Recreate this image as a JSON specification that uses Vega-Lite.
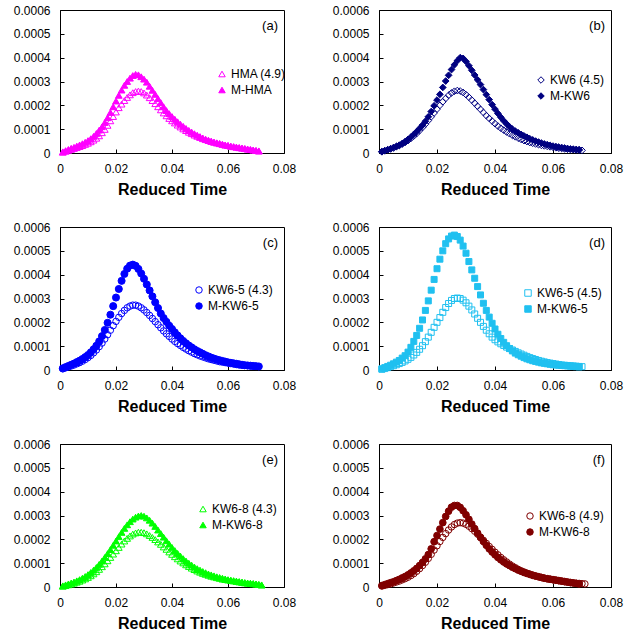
{
"$schema":"https://vega.github.io/schema/vega-lite/v6.json",
"background":"white",
"padding":{"left":12,"top":3,"right":0,"bottom":0},
"config":{"font":"Liberation Sans","view":{"stroke":"#000","strokeWidth":1},
"axis":{"grid":false,"labelFlush":false,"domainColor":"#000","tickColor":"#000","labelColor":"#000","labelFontSize":12,"titleFontSize":16,"titleFontWeight":"bold","titleColor":"#000","tickSize":-4,"labelPadding":14,"titlePadding":7},
"legend":{"orient":"none","title":null,"labelFontSize":12,"labelColor":"#000","symbolSize":42,"symbolStrokeWidth":1,"rowPadding":4,"labelOffset":3},
"title":{"anchor":"end","frame":"group","offset":-29,"dx":-6,"fontSize":13,"fontWeight":"normal","color":"#000"}},
"datasets":{
"a1":[{"x":0.001,"y":0.03e-4},{"x":0.002,"y":0.07e-4},{"x":0.003,"y":0.11e-4},{"x":0.004,"y":0.15e-4},{"x":0.005,"y":0.19e-4},{"x":0.006,"y":0.23e-4},{"x":0.007,"y":0.27e-4},{"x":0.008,"y":0.31e-4},{"x":0.009,"y":0.36e-4},{"x":0.010,"y":0.41e-4},{"x":0.011,"y":0.47e-4},{"x":0.012,"y":0.54e-4},{"x":0.013,"y":0.62e-4},{"x":0.014,"y":0.72e-4},{"x":0.015,"y":0.85e-4},{"x":0.016,"y":0.99e-4},{"x":0.017,"y":1.16e-4},{"x":0.018,"y":1.35e-4},{"x":0.019,"y":1.53e-4},{"x":0.020,"y":1.72e-4},{"x":0.021,"y":1.9e-4},{"x":0.022,"y":2.05e-4},{"x":0.023,"y":2.2e-4},{"x":0.024,"y":2.33e-4},{"x":0.025,"y":2.44e-4},{"x":0.026,"y":2.53e-4},{"x":0.027,"y":2.58e-4},{"x":0.028,"y":2.6e-4},{"x":0.029,"y":2.58e-4},{"x":0.030,"y":2.52e-4},{"x":0.031,"y":2.43e-4},{"x":0.032,"y":2.32e-4},{"x":0.033,"y":2.2e-4},{"x":0.034,"y":2.07e-4},{"x":0.035,"y":1.94e-4},{"x":0.036,"y":1.81e-4},{"x":0.037,"y":1.68e-4},{"x":0.038,"y":1.56e-4},{"x":0.039,"y":1.45e-4},{"x":0.040,"y":1.35e-4},{"x":0.041,"y":1.26e-4},{"x":0.042,"y":1.17e-4},{"x":0.043,"y":1.09e-4},{"x":0.044,"y":1.01e-4},{"x":0.045,"y":0.94e-4},{"x":0.046,"y":0.87e-4},{"x":0.047,"y":0.81e-4},{"x":0.048,"y":0.75e-4},{"x":0.049,"y":0.7e-4},{"x":0.050,"y":0.65e-4},{"x":0.051,"y":0.6e-4},{"x":0.052,"y":0.56e-4},{"x":0.053,"y":0.52e-4},{"x":0.054,"y":0.48e-4},{"x":0.055,"y":0.45e-4},{"x":0.056,"y":0.42e-4},{"x":0.057,"y":0.39e-4},{"x":0.058,"y":0.36e-4},{"x":0.059,"y":0.33e-4},{"x":0.060,"y":0.31e-4},{"x":0.061,"y":0.28e-4},{"x":0.062,"y":0.26e-4},{"x":0.063,"y":0.24e-4},{"x":0.064,"y":0.22e-4},{"x":0.065,"y":0.2e-4},{"x":0.066,"y":0.18e-4},{"x":0.067,"y":0.16e-4},{"x":0.068,"y":0.14e-4},{"x":0.069,"y":0.12e-4},{"x":0.070,"y":0.1e-4},{"x":0.071,"y":0.08e-4}],
"a2":[{"x":0.001,"y":0.05e-4},{"x":0.002,"y":0.1e-4},{"x":0.003,"y":0.15e-4},{"x":0.004,"y":0.2e-4},{"x":0.005,"y":0.24e-4},{"x":0.006,"y":0.29e-4},{"x":0.007,"y":0.34e-4},{"x":0.008,"y":0.39e-4},{"x":0.009,"y":0.45e-4},{"x":0.010,"y":0.52e-4},{"x":0.011,"y":0.6e-4},{"x":0.012,"y":0.7e-4},{"x":0.013,"y":0.82e-4},{"x":0.014,"y":0.96e-4},{"x":0.015,"y":1.1e-4},{"x":0.016,"y":1.28e-4},{"x":0.017,"y":1.48e-4},{"x":0.018,"y":1.7e-4},{"x":0.019,"y":1.94e-4},{"x":0.020,"y":2.18e-4},{"x":0.021,"y":2.42e-4},{"x":0.022,"y":2.64e-4},{"x":0.023,"y":2.84e-4},{"x":0.024,"y":3.0e-4},{"x":0.025,"y":3.14e-4},{"x":0.026,"y":3.25e-4},{"x":0.027,"y":3.3e-4},{"x":0.028,"y":3.28e-4},{"x":0.029,"y":3.2e-4},{"x":0.030,"y":3.1e-4},{"x":0.031,"y":2.97e-4},{"x":0.032,"y":2.8e-4},{"x":0.033,"y":2.63e-4},{"x":0.034,"y":2.46e-4},{"x":0.035,"y":2.28e-4},{"x":0.036,"y":2.11e-4},{"x":0.037,"y":1.94e-4},{"x":0.038,"y":1.78e-4},{"x":0.039,"y":1.65e-4},{"x":0.040,"y":1.53e-4},{"x":0.041,"y":1.42e-4},{"x":0.042,"y":1.31e-4},{"x":0.043,"y":1.21e-4},{"x":0.044,"y":1.12e-4},{"x":0.045,"y":1.03e-4},{"x":0.046,"y":0.95e-4},{"x":0.047,"y":0.88e-4},{"x":0.048,"y":0.81e-4},{"x":0.049,"y":0.75e-4},{"x":0.050,"y":0.69e-4},{"x":0.051,"y":0.63e-4},{"x":0.052,"y":0.58e-4},{"x":0.053,"y":0.54e-4},{"x":0.054,"y":0.5e-4},{"x":0.055,"y":0.46e-4},{"x":0.056,"y":0.43e-4},{"x":0.057,"y":0.4e-4},{"x":0.058,"y":0.37e-4},{"x":0.059,"y":0.34e-4},{"x":0.060,"y":0.32e-4},{"x":0.061,"y":0.29e-4},{"x":0.062,"y":0.27e-4},{"x":0.063,"y":0.25e-4},{"x":0.064,"y":0.23e-4},{"x":0.065,"y":0.21e-4},{"x":0.066,"y":0.19e-4},{"x":0.067,"y":0.17e-4},{"x":0.068,"y":0.15e-4},{"x":0.069,"y":0.13e-4},{"x":0.070,"y":0.11e-4},{"x":0.071,"y":0.09e-4}],
"b1":[{"x":0.001,"y":0.05e-4},{"x":0.002,"y":0.09e-4},{"x":0.003,"y":0.13e-4},{"x":0.004,"y":0.17e-4},{"x":0.005,"y":0.21e-4},{"x":0.006,"y":0.26e-4},{"x":0.007,"y":0.31e-4},{"x":0.008,"y":0.37e-4},{"x":0.009,"y":0.44e-4},{"x":0.010,"y":0.52e-4},{"x":0.011,"y":0.61e-4},{"x":0.012,"y":0.71e-4},{"x":0.013,"y":0.82e-4},{"x":0.014,"y":0.94e-4},{"x":0.015,"y":1.07e-4},{"x":0.016,"y":1.21e-4},{"x":0.017,"y":1.36e-4},{"x":0.018,"y":1.52e-4},{"x":0.019,"y":1.68e-4},{"x":0.020,"y":1.84e-4},{"x":0.021,"y":2.0e-4},{"x":0.022,"y":2.15e-4},{"x":0.023,"y":2.29e-4},{"x":0.024,"y":2.42e-4},{"x":0.025,"y":2.52e-4},{"x":0.026,"y":2.59e-4},{"x":0.027,"y":2.62e-4},{"x":0.028,"y":2.6e-4},{"x":0.029,"y":2.54e-4},{"x":0.030,"y":2.45e-4},{"x":0.031,"y":2.34e-4},{"x":0.032,"y":2.22e-4},{"x":0.033,"y":2.09e-4},{"x":0.034,"y":1.96e-4},{"x":0.035,"y":1.83e-4},{"x":0.036,"y":1.7e-4},{"x":0.037,"y":1.57e-4},{"x":0.038,"y":1.45e-4},{"x":0.039,"y":1.34e-4},{"x":0.040,"y":1.23e-4},{"x":0.041,"y":1.13e-4},{"x":0.042,"y":1.04e-4},{"x":0.043,"y":0.96e-4},{"x":0.044,"y":0.88e-4},{"x":0.045,"y":0.81e-4},{"x":0.046,"y":0.74e-4},{"x":0.047,"y":0.68e-4},{"x":0.048,"y":0.62e-4},{"x":0.049,"y":0.57e-4},{"x":0.050,"y":0.52e-4},{"x":0.051,"y":0.48e-4},{"x":0.052,"y":0.44e-4},{"x":0.053,"y":0.41e-4},{"x":0.054,"y":0.38e-4},{"x":0.055,"y":0.35e-4},{"x":0.056,"y":0.32e-4},{"x":0.057,"y":0.3e-4},{"x":0.058,"y":0.28e-4},{"x":0.059,"y":0.26e-4},{"x":0.060,"y":0.24e-4},{"x":0.061,"y":0.22e-4},{"x":0.062,"y":0.2e-4},{"x":0.063,"y":0.19e-4},{"x":0.064,"y":0.17e-4},{"x":0.065,"y":0.16e-4},{"x":0.066,"y":0.15e-4},{"x":0.067,"y":0.14e-4},{"x":0.068,"y":0.13e-4},{"x":0.069,"y":0.12e-4},{"x":0.070,"y":0.11e-4}],
"b2":[{"x":0.001,"y":0.06e-4},{"x":0.002,"y":0.1e-4},{"x":0.003,"y":0.14e-4},{"x":0.004,"y":0.18e-4},{"x":0.005,"y":0.23e-4},{"x":0.006,"y":0.28e-4},{"x":0.007,"y":0.33e-4},{"x":0.008,"y":0.4e-4},{"x":0.009,"y":0.48e-4},{"x":0.010,"y":0.57e-4},{"x":0.011,"y":0.67e-4},{"x":0.012,"y":0.78e-4},{"x":0.013,"y":0.9e-4},{"x":0.014,"y":1.03e-4},{"x":0.015,"y":1.17e-4},{"x":0.016,"y":1.33e-4},{"x":0.017,"y":1.52e-4},{"x":0.018,"y":1.74e-4},{"x":0.019,"y":1.98e-4},{"x":0.020,"y":2.22e-4},{"x":0.021,"y":2.46e-4},{"x":0.022,"y":2.75e-4},{"x":0.023,"y":3.02e-4},{"x":0.024,"y":3.26e-4},{"x":0.025,"y":3.5e-4},{"x":0.026,"y":3.7e-4},{"x":0.027,"y":3.87e-4},{"x":0.028,"y":4.0e-4},{"x":0.029,"y":3.97e-4},{"x":0.030,"y":3.84e-4},{"x":0.031,"y":3.66e-4},{"x":0.032,"y":3.47e-4},{"x":0.033,"y":3.27e-4},{"x":0.034,"y":3.07e-4},{"x":0.035,"y":2.87e-4},{"x":0.036,"y":2.66e-4},{"x":0.037,"y":2.45e-4},{"x":0.038,"y":2.24e-4},{"x":0.039,"y":2.03e-4},{"x":0.040,"y":1.84e-4},{"x":0.041,"y":1.66e-4},{"x":0.042,"y":1.5e-4},{"x":0.043,"y":1.35e-4},{"x":0.044,"y":1.22e-4},{"x":0.045,"y":1.1e-4},{"x":0.046,"y":1.0e-4},{"x":0.047,"y":0.92e-4},{"x":0.048,"y":0.85e-4},{"x":0.049,"y":0.78e-4},{"x":0.050,"y":0.72e-4},{"x":0.051,"y":0.66e-4},{"x":0.052,"y":0.6e-4},{"x":0.053,"y":0.55e-4},{"x":0.054,"y":0.5e-4},{"x":0.055,"y":0.46e-4},{"x":0.056,"y":0.42e-4},{"x":0.057,"y":0.38e-4},{"x":0.058,"y":0.35e-4},{"x":0.059,"y":0.32e-4},{"x":0.060,"y":0.29e-4},{"x":0.061,"y":0.27e-4},{"x":0.062,"y":0.25e-4},{"x":0.063,"y":0.23e-4},{"x":0.064,"y":0.21e-4},{"x":0.065,"y":0.19e-4},{"x":0.066,"y":0.17e-4},{"x":0.067,"y":0.16e-4},{"x":0.068,"y":0.15e-4},{"x":0.069,"y":0.14e-4}],
"c1":[{"x":0.001,"y":0.05e-4},{"x":0.002,"y":0.09e-4},{"x":0.003,"y":0.13e-4},{"x":0.004,"y":0.17e-4},{"x":0.005,"y":0.21e-4},{"x":0.006,"y":0.26e-4},{"x":0.007,"y":0.31e-4},{"x":0.008,"y":0.37e-4},{"x":0.009,"y":0.44e-4},{"x":0.010,"y":0.52e-4},{"x":0.011,"y":0.61e-4},{"x":0.012,"y":0.72e-4},{"x":0.013,"y":0.84e-4},{"x":0.014,"y":0.98e-4},{"x":0.015,"y":1.13e-4},{"x":0.016,"y":1.3e-4},{"x":0.017,"y":1.48e-4},{"x":0.018,"y":1.67e-4},{"x":0.019,"y":1.86e-4},{"x":0.020,"y":2.04e-4},{"x":0.021,"y":2.21e-4},{"x":0.022,"y":2.37e-4},{"x":0.023,"y":2.5e-4},{"x":0.024,"y":2.61e-4},{"x":0.025,"y":2.68e-4},{"x":0.026,"y":2.72e-4},{"x":0.027,"y":2.72e-4},{"x":0.028,"y":2.68e-4},{"x":0.029,"y":2.61e-4},{"x":0.030,"y":2.52e-4},{"x":0.031,"y":2.41e-4},{"x":0.032,"y":2.29e-4},{"x":0.033,"y":2.16e-4},{"x":0.034,"y":2.03e-4},{"x":0.035,"y":1.9e-4},{"x":0.036,"y":1.77e-4},{"x":0.037,"y":1.64e-4},{"x":0.038,"y":1.52e-4},{"x":0.039,"y":1.41e-4},{"x":0.040,"y":1.3e-4},{"x":0.041,"y":1.2e-4},{"x":0.042,"y":1.11e-4},{"x":0.043,"y":1.03e-4},{"x":0.044,"y":0.95e-4},{"x":0.045,"y":0.88e-4},{"x":0.046,"y":0.81e-4},{"x":0.047,"y":0.75e-4},{"x":0.048,"y":0.69e-4},{"x":0.049,"y":0.64e-4},{"x":0.050,"y":0.59e-4},{"x":0.051,"y":0.55e-4},{"x":0.052,"y":0.51e-4},{"x":0.053,"y":0.47e-4},{"x":0.054,"y":0.44e-4},{"x":0.055,"y":0.41e-4},{"x":0.056,"y":0.38e-4},{"x":0.057,"y":0.35e-4},{"x":0.058,"y":0.33e-4},{"x":0.059,"y":0.31e-4},{"x":0.060,"y":0.29e-4},{"x":0.061,"y":0.27e-4},{"x":0.062,"y":0.25e-4},{"x":0.063,"y":0.23e-4},{"x":0.064,"y":0.21e-4},{"x":0.065,"y":0.2e-4},{"x":0.066,"y":0.19e-4},{"x":0.067,"y":0.18e-4},{"x":0.068,"y":0.17e-4},{"x":0.069,"y":0.16e-4},{"x":0.070,"y":0.15e-4}],
"c2":[{"x":0.001,"y":0.07e-4},{"x":0.002,"y":0.12e-4},{"x":0.003,"y":0.17e-4},{"x":0.004,"y":0.22e-4},{"x":0.005,"y":0.27e-4},{"x":0.006,"y":0.33e-4},{"x":0.007,"y":0.39e-4},{"x":0.008,"y":0.46e-4},{"x":0.009,"y":0.54e-4},{"x":0.010,"y":0.63e-4},{"x":0.011,"y":0.74e-4},{"x":0.012,"y":0.87e-4},{"x":0.013,"y":1.02e-4},{"x":0.014,"y":1.2e-4},{"x":0.015,"y":1.42e-4},{"x":0.016,"y":1.68e-4},{"x":0.017,"y":1.98e-4},{"x":0.018,"y":2.32e-4},{"x":0.019,"y":2.68e-4},{"x":0.020,"y":3.04e-4},{"x":0.021,"y":3.4e-4},{"x":0.022,"y":3.74e-4},{"x":0.023,"y":4.03e-4},{"x":0.024,"y":4.25e-4},{"x":0.025,"y":4.38e-4},{"x":0.026,"y":4.42e-4},{"x":0.027,"y":4.37e-4},{"x":0.028,"y":4.24e-4},{"x":0.029,"y":4.05e-4},{"x":0.030,"y":3.83e-4},{"x":0.031,"y":3.59e-4},{"x":0.032,"y":3.34e-4},{"x":0.033,"y":3.09e-4},{"x":0.034,"y":2.84e-4},{"x":0.035,"y":2.6e-4},{"x":0.036,"y":2.37e-4},{"x":0.037,"y":2.18e-4},{"x":0.038,"y":2.02e-4},{"x":0.039,"y":1.86e-4},{"x":0.040,"y":1.72e-4},{"x":0.041,"y":1.58e-4},{"x":0.042,"y":1.45e-4},{"x":0.043,"y":1.33e-4},{"x":0.044,"y":1.22e-4},{"x":0.045,"y":1.12e-4},{"x":0.046,"y":1.03e-4},{"x":0.047,"y":0.95e-4},{"x":0.048,"y":0.87e-4},{"x":0.049,"y":0.8e-4},{"x":0.050,"y":0.74e-4},{"x":0.051,"y":0.68e-4},{"x":0.052,"y":0.62e-4},{"x":0.053,"y":0.57e-4},{"x":0.054,"y":0.52e-4},{"x":0.055,"y":0.48e-4},{"x":0.056,"y":0.44e-4},{"x":0.057,"y":0.41e-4},{"x":0.058,"y":0.38e-4},{"x":0.059,"y":0.35e-4},{"x":0.060,"y":0.32e-4},{"x":0.061,"y":0.3e-4},{"x":0.062,"y":0.28e-4},{"x":0.063,"y":0.26e-4},{"x":0.064,"y":0.24e-4},{"x":0.065,"y":0.22e-4},{"x":0.066,"y":0.2e-4},{"x":0.067,"y":0.19e-4},{"x":0.068,"y":0.18e-4},{"x":0.069,"y":0.17e-4},{"x":0.070,"y":0.16e-4},{"x":0.071,"y":0.15e-4}],
"d1":[{"x":0.001,"y":0.03e-4},{"x":0.002,"y":0.06e-4},{"x":0.003,"y":0.1e-4},{"x":0.004,"y":0.14e-4},{"x":0.005,"y":0.18e-4},{"x":0.006,"y":0.22e-4},{"x":0.007,"y":0.27e-4},{"x":0.008,"y":0.32e-4},{"x":0.009,"y":0.38e-4},{"x":0.010,"y":0.45e-4},{"x":0.011,"y":0.53e-4},{"x":0.012,"y":0.63e-4},{"x":0.013,"y":0.74e-4},{"x":0.014,"y":0.87e-4},{"x":0.015,"y":1.02e-4},{"x":0.016,"y":1.19e-4},{"x":0.017,"y":1.38e-4},{"x":0.018,"y":1.58e-4},{"x":0.019,"y":1.79e-4},{"x":0.020,"y":2.0e-4},{"x":0.021,"y":2.2e-4},{"x":0.022,"y":2.42e-4},{"x":0.023,"y":2.62e-4},{"x":0.024,"y":2.79e-4},{"x":0.025,"y":2.92e-4},{"x":0.026,"y":3.0e-4},{"x":0.027,"y":3.02e-4},{"x":0.028,"y":3.0e-4},{"x":0.029,"y":2.93e-4},{"x":0.030,"y":2.82e-4},{"x":0.031,"y":2.68e-4},{"x":0.032,"y":2.52e-4},{"x":0.033,"y":2.35e-4},{"x":0.034,"y":2.17e-4},{"x":0.035,"y":2.0e-4},{"x":0.036,"y":1.83e-4},{"x":0.037,"y":1.67e-4},{"x":0.038,"y":1.52e-4},{"x":0.039,"y":1.38e-4},{"x":0.040,"y":1.27e-4},{"x":0.041,"y":1.18e-4},{"x":0.042,"y":1.1e-4},{"x":0.043,"y":1.03e-4},{"x":0.044,"y":0.96e-4},{"x":0.045,"y":0.9e-4},{"x":0.046,"y":0.84e-4},{"x":0.047,"y":0.78e-4},{"x":0.048,"y":0.72e-4},{"x":0.049,"y":0.67e-4},{"x":0.050,"y":0.62e-4},{"x":0.051,"y":0.57e-4},{"x":0.052,"y":0.52e-4},{"x":0.053,"y":0.48e-4},{"x":0.054,"y":0.44e-4},{"x":0.055,"y":0.4e-4},{"x":0.056,"y":0.37e-4},{"x":0.057,"y":0.34e-4},{"x":0.058,"y":0.31e-4},{"x":0.059,"y":0.29e-4},{"x":0.060,"y":0.27e-4},{"x":0.061,"y":0.25e-4},{"x":0.062,"y":0.23e-4},{"x":0.063,"y":0.21e-4},{"x":0.064,"y":0.2e-4},{"x":0.065,"y":0.19e-4},{"x":0.066,"y":0.18e-4},{"x":0.067,"y":0.17e-4},{"x":0.068,"y":0.16e-4},{"x":0.069,"y":0.15e-4},{"x":0.070,"y":0.14e-4}],
"d2":[{"x":0.001,"y":0.05e-4},{"x":0.002,"y":0.1e-4},{"x":0.003,"y":0.15e-4},{"x":0.004,"y":0.2e-4},{"x":0.005,"y":0.26e-4},{"x":0.006,"y":0.33e-4},{"x":0.007,"y":0.4e-4},{"x":0.008,"y":0.5e-4},{"x":0.009,"y":0.6e-4},{"x":0.010,"y":0.75e-4},{"x":0.011,"y":0.95e-4},{"x":0.012,"y":1.2e-4},{"x":0.013,"y":1.45e-4},{"x":0.014,"y":1.75e-4},{"x":0.015,"y":2.1e-4},{"x":0.016,"y":2.5e-4},{"x":0.017,"y":2.9e-4},{"x":0.018,"y":3.35e-4},{"x":0.019,"y":3.8e-4},{"x":0.020,"y":4.25e-4},{"x":0.021,"y":4.65e-4},{"x":0.022,"y":5.0e-4},{"x":0.023,"y":5.3e-4},{"x":0.024,"y":5.5e-4},{"x":0.025,"y":5.62e-4},{"x":0.026,"y":5.66e-4},{"x":0.027,"y":5.6e-4},{"x":0.028,"y":5.45e-4},{"x":0.029,"y":5.2e-4},{"x":0.030,"y":4.9e-4},{"x":0.031,"y":4.55e-4},{"x":0.032,"y":4.2e-4},{"x":0.033,"y":3.85e-4},{"x":0.034,"y":3.5e-4},{"x":0.035,"y":3.15e-4},{"x":0.036,"y":2.8e-4},{"x":0.037,"y":2.5e-4},{"x":0.038,"y":2.22e-4},{"x":0.039,"y":1.96e-4},{"x":0.040,"y":1.72e-4},{"x":0.041,"y":1.5e-4},{"x":0.042,"y":1.32e-4},{"x":0.043,"y":1.16e-4},{"x":0.044,"y":1.02e-4},{"x":0.045,"y":0.9e-4},{"x":0.046,"y":0.8e-4},{"x":0.047,"y":0.71e-4},{"x":0.048,"y":0.64e-4},{"x":0.049,"y":0.58e-4},{"x":0.050,"y":0.52e-4},{"x":0.051,"y":0.47e-4},{"x":0.052,"y":0.43e-4},{"x":0.053,"y":0.39e-4},{"x":0.054,"y":0.36e-4},{"x":0.055,"y":0.33e-4},{"x":0.056,"y":0.3e-4},{"x":0.057,"y":0.28e-4},{"x":0.058,"y":0.26e-4},{"x":0.059,"y":0.24e-4},{"x":0.060,"y":0.22e-4},{"x":0.061,"y":0.21e-4},{"x":0.062,"y":0.2e-4},{"x":0.063,"y":0.19e-4},{"x":0.064,"y":0.18e-4},{"x":0.065,"y":0.17e-4},{"x":0.066,"y":0.16e-4},{"x":0.067,"y":0.15e-4},{"x":0.068,"y":0.14e-4},{"x":0.069,"y":0.13e-4}],
"e1":[{"x":0.001,"y":0.03e-4},{"x":0.002,"y":0.06e-4},{"x":0.003,"y":0.09e-4},{"x":0.004,"y":0.12e-4},{"x":0.005,"y":0.16e-4},{"x":0.006,"y":0.2e-4},{"x":0.007,"y":0.24e-4},{"x":0.008,"y":0.29e-4},{"x":0.009,"y":0.34e-4},{"x":0.010,"y":0.4e-4},{"x":0.011,"y":0.47e-4},{"x":0.012,"y":0.55e-4},{"x":0.013,"y":0.64e-4},{"x":0.014,"y":0.74e-4},{"x":0.015,"y":0.85e-4},{"x":0.016,"y":0.97e-4},{"x":0.017,"y":1.1e-4},{"x":0.018,"y":1.24e-4},{"x":0.019,"y":1.38e-4},{"x":0.020,"y":1.52e-4},{"x":0.021,"y":1.66e-4},{"x":0.022,"y":1.8e-4},{"x":0.023,"y":1.93e-4},{"x":0.024,"y":2.04e-4},{"x":0.025,"y":2.14e-4},{"x":0.026,"y":2.22e-4},{"x":0.027,"y":2.27e-4},{"x":0.028,"y":2.3e-4},{"x":0.029,"y":2.3e-4},{"x":0.030,"y":2.28e-4},{"x":0.031,"y":2.23e-4},{"x":0.032,"y":2.16e-4},{"x":0.033,"y":2.08e-4},{"x":0.034,"y":1.99e-4},{"x":0.035,"y":1.89e-4},{"x":0.036,"y":1.79e-4},{"x":0.037,"y":1.68e-4},{"x":0.038,"y":1.58e-4},{"x":0.039,"y":1.47e-4},{"x":0.040,"y":1.37e-4},{"x":0.041,"y":1.27e-4},{"x":0.042,"y":1.18e-4},{"x":0.043,"y":1.09e-4},{"x":0.044,"y":1.01e-4},{"x":0.045,"y":0.93e-4},{"x":0.046,"y":0.86e-4},{"x":0.047,"y":0.79e-4},{"x":0.048,"y":0.73e-4},{"x":0.049,"y":0.67e-4},{"x":0.050,"y":0.62e-4},{"x":0.051,"y":0.57e-4},{"x":0.052,"y":0.53e-4},{"x":0.053,"y":0.49e-4},{"x":0.054,"y":0.45e-4},{"x":0.055,"y":0.42e-4},{"x":0.056,"y":0.39e-4},{"x":0.057,"y":0.36e-4},{"x":0.058,"y":0.33e-4},{"x":0.059,"y":0.31e-4},{"x":0.060,"y":0.29e-4},{"x":0.061,"y":0.27e-4},{"x":0.062,"y":0.25e-4},{"x":0.063,"y":0.23e-4},{"x":0.064,"y":0.21e-4},{"x":0.065,"y":0.19e-4},{"x":0.066,"y":0.17e-4},{"x":0.067,"y":0.16e-4},{"x":0.068,"y":0.15e-4},{"x":0.069,"y":0.13e-4},{"x":0.070,"y":0.12e-4},{"x":0.071,"y":0.1e-4},{"x":0.072,"y":0.08e-4}],
"e2":[{"x":0.001,"y":0.05e-4},{"x":0.002,"y":0.09e-4},{"x":0.003,"y":0.13e-4},{"x":0.004,"y":0.17e-4},{"x":0.005,"y":0.21e-4},{"x":0.006,"y":0.26e-4},{"x":0.007,"y":0.31e-4},{"x":0.008,"y":0.37e-4},{"x":0.009,"y":0.44e-4},{"x":0.010,"y":0.52e-4},{"x":0.011,"y":0.61e-4},{"x":0.012,"y":0.71e-4},{"x":0.013,"y":0.82e-4},{"x":0.014,"y":0.95e-4},{"x":0.015,"y":1.09e-4},{"x":0.016,"y":1.24e-4},{"x":0.017,"y":1.4e-4},{"x":0.018,"y":1.57e-4},{"x":0.019,"y":1.75e-4},{"x":0.020,"y":1.93e-4},{"x":0.021,"y":2.11e-4},{"x":0.022,"y":2.29e-4},{"x":0.023,"y":2.46e-4},{"x":0.024,"y":2.61e-4},{"x":0.025,"y":2.74e-4},{"x":0.026,"y":2.85e-4},{"x":0.027,"y":2.93e-4},{"x":0.028,"y":2.98e-4},{"x":0.029,"y":3.0e-4},{"x":0.030,"y":2.97e-4},{"x":0.031,"y":2.9e-4},{"x":0.032,"y":2.8e-4},{"x":0.033,"y":2.68e-4},{"x":0.034,"y":2.54e-4},{"x":0.035,"y":2.39e-4},{"x":0.036,"y":2.24e-4},{"x":0.037,"y":2.09e-4},{"x":0.038,"y":1.94e-4},{"x":0.039,"y":1.8e-4},{"x":0.040,"y":1.66e-4},{"x":0.041,"y":1.53e-4},{"x":0.042,"y":1.41e-4},{"x":0.043,"y":1.3e-4},{"x":0.044,"y":1.19e-4},{"x":0.045,"y":1.09e-4},{"x":0.046,"y":1.0e-4},{"x":0.047,"y":0.92e-4},{"x":0.048,"y":0.84e-4},{"x":0.049,"y":0.77e-4},{"x":0.050,"y":0.71e-4},{"x":0.051,"y":0.65e-4},{"x":0.052,"y":0.6e-4},{"x":0.053,"y":0.55e-4},{"x":0.054,"y":0.51e-4},{"x":0.055,"y":0.47e-4},{"x":0.056,"y":0.43e-4},{"x":0.057,"y":0.4e-4},{"x":0.058,"y":0.37e-4},{"x":0.059,"y":0.34e-4},{"x":0.060,"y":0.31e-4},{"x":0.061,"y":0.29e-4},{"x":0.062,"y":0.27e-4},{"x":0.063,"y":0.25e-4},{"x":0.064,"y":0.23e-4},{"x":0.065,"y":0.21e-4},{"x":0.066,"y":0.19e-4},{"x":0.067,"y":0.17e-4},{"x":0.068,"y":0.16e-4},{"x":0.069,"y":0.15e-4},{"x":0.070,"y":0.13e-4},{"x":0.071,"y":0.11e-4},{"x":0.072,"y":0.09e-4}],
"f1":[{"x":0.001,"y":0.04e-4},{"x":0.002,"y":0.07e-4},{"x":0.003,"y":0.1e-4},{"x":0.004,"y":0.13e-4},{"x":0.005,"y":0.17e-4},{"x":0.006,"y":0.21e-4},{"x":0.007,"y":0.25e-4},{"x":0.008,"y":0.3e-4},{"x":0.009,"y":0.35e-4},{"x":0.010,"y":0.41e-4},{"x":0.011,"y":0.48e-4},{"x":0.012,"y":0.56e-4},{"x":0.013,"y":0.66e-4},{"x":0.014,"y":0.77e-4},{"x":0.015,"y":0.9e-4},{"x":0.016,"y":1.04e-4},{"x":0.017,"y":1.2e-4},{"x":0.018,"y":1.37e-4},{"x":0.019,"y":1.55e-4},{"x":0.020,"y":1.73e-4},{"x":0.021,"y":1.91e-4},{"x":0.022,"y":2.08e-4},{"x":0.023,"y":2.24e-4},{"x":0.024,"y":2.39e-4},{"x":0.025,"y":2.52e-4},{"x":0.026,"y":2.62e-4},{"x":0.027,"y":2.68e-4},{"x":0.028,"y":2.7e-4},{"x":0.029,"y":2.68e-4},{"x":0.030,"y":2.63e-4},{"x":0.031,"y":2.55e-4},{"x":0.032,"y":2.45e-4},{"x":0.033,"y":2.34e-4},{"x":0.034,"y":2.22e-4},{"x":0.035,"y":2.09e-4},{"x":0.036,"y":1.96e-4},{"x":0.037,"y":1.83e-4},{"x":0.038,"y":1.7e-4},{"x":0.039,"y":1.58e-4},{"x":0.040,"y":1.46e-4},{"x":0.041,"y":1.35e-4},{"x":0.042,"y":1.24e-4},{"x":0.043,"y":1.14e-4},{"x":0.044,"y":1.05e-4},{"x":0.045,"y":0.96e-4},{"x":0.046,"y":0.88e-4},{"x":0.047,"y":0.81e-4},{"x":0.048,"y":0.74e-4},{"x":0.049,"y":0.68e-4},{"x":0.050,"y":0.63e-4},{"x":0.051,"y":0.58e-4},{"x":0.052,"y":0.54e-4},{"x":0.053,"y":0.5e-4},{"x":0.054,"y":0.46e-4},{"x":0.055,"y":0.43e-4},{"x":0.056,"y":0.4e-4},{"x":0.057,"y":0.37e-4},{"x":0.058,"y":0.34e-4},{"x":0.059,"y":0.32e-4},{"x":0.060,"y":0.3e-4},{"x":0.061,"y":0.28e-4},{"x":0.062,"y":0.26e-4},{"x":0.063,"y":0.24e-4},{"x":0.064,"y":0.22e-4},{"x":0.065,"y":0.2e-4},{"x":0.066,"y":0.18e-4},{"x":0.067,"y":0.17e-4},{"x":0.068,"y":0.16e-4},{"x":0.069,"y":0.15e-4},{"x":0.070,"y":0.14e-4},{"x":0.071,"y":0.13e-4}],
"f2":[{"x":0.001,"y":0.06e-4},{"x":0.002,"y":0.1e-4},{"x":0.003,"y":0.14e-4},{"x":0.004,"y":0.18e-4},{"x":0.005,"y":0.22e-4},{"x":0.006,"y":0.27e-4},{"x":0.007,"y":0.32e-4},{"x":0.008,"y":0.38e-4},{"x":0.009,"y":0.44e-4},{"x":0.010,"y":0.51e-4},{"x":0.011,"y":0.59e-4},{"x":0.012,"y":0.68e-4},{"x":0.013,"y":0.78e-4},{"x":0.014,"y":0.9e-4},{"x":0.015,"y":1.03e-4},{"x":0.016,"y":1.18e-4},{"x":0.017,"y":1.36e-4},{"x":0.018,"y":1.6e-4},{"x":0.019,"y":1.9e-4},{"x":0.020,"y":2.16e-4},{"x":0.021,"y":2.43e-4},{"x":0.022,"y":2.7e-4},{"x":0.023,"y":2.96e-4},{"x":0.024,"y":3.18e-4},{"x":0.025,"y":3.35e-4},{"x":0.026,"y":3.42e-4},{"x":0.027,"y":3.42e-4},{"x":0.028,"y":3.34e-4},{"x":0.029,"y":3.2e-4},{"x":0.030,"y":3.03e-4},{"x":0.031,"y":2.84e-4},{"x":0.032,"y":2.64e-4},{"x":0.033,"y":2.45e-4},{"x":0.034,"y":2.26e-4},{"x":0.035,"y":2.08e-4},{"x":0.036,"y":1.91e-4},{"x":0.037,"y":1.75e-4},{"x":0.038,"y":1.6e-4},{"x":0.039,"y":1.47e-4},{"x":0.040,"y":1.35e-4},{"x":0.041,"y":1.24e-4},{"x":0.042,"y":1.14e-4},{"x":0.043,"y":1.05e-4},{"x":0.044,"y":0.97e-4},{"x":0.045,"y":0.9e-4},{"x":0.046,"y":0.83e-4},{"x":0.047,"y":0.77e-4},{"x":0.048,"y":0.71e-4},{"x":0.049,"y":0.66e-4},{"x":0.050,"y":0.61e-4},{"x":0.051,"y":0.57e-4},{"x":0.052,"y":0.53e-4},{"x":0.053,"y":0.49e-4},{"x":0.054,"y":0.46e-4},{"x":0.055,"y":0.43e-4},{"x":0.056,"y":0.4e-4},{"x":0.057,"y":0.37e-4},{"x":0.058,"y":0.35e-4},{"x":0.059,"y":0.33e-4},{"x":0.060,"y":0.31e-4},{"x":0.061,"y":0.29e-4},{"x":0.062,"y":0.27e-4},{"x":0.063,"y":0.25e-4},{"x":0.064,"y":0.23e-4},{"x":0.065,"y":0.21e-4},{"x":0.066,"y":0.19e-4},{"x":0.067,"y":0.17e-4},{"x":0.068,"y":0.15e-4},{"x":0.069,"y":0.13e-4}]
},
"spacing":22,
"resolve":{"scale":{"shape":"independent","fill":"independent","stroke":"independent"},"legend":{"shape":"independent","fill":"independent","stroke":"independent"}},
"vconcat":[
{"hconcat":[
{"width":224,"height":143,"title":"(a)",
"encoding":{"x":{"field":"x","type":"quantitative","scale":{"domain":[0,0.08]},"axis":{"values":[0,0.02,0.04,0.06,0.08],"format":"~g"},"title":"Reduced Time"},"y":{"field":"y","type":"quantitative","scale":{"domain":[0,0.0006]},"axis":{"values":[0,0.0001,0.0002,0.0003,0.0004,0.0005,0.0006],"format":"~g"},"title":null}},
"layer":[
{"data":{"name":"a2"},"mark":{"type":"point","opacity":1,"strokeWidth":1,"size":45},"encoding":{
"shape":{"datum":"M-HMA","type":"nominal","scale":{"domain":["HMA (4.9)","M-HMA"],"range":["triangle-up","triangle-up"]},"legend":{"legendX":156,"legendY":58}},
"stroke":{"datum":"M-HMA","type":"nominal","scale":{"domain":["HMA (4.9)","M-HMA"],"range":["#FF00FF","#FF00FF"]},"legend":{"legendX":156,"legendY":58}},
"fill":{"datum":"M-HMA","type":"nominal","scale":{"domain":["HMA (4.9)","M-HMA"],"range":["transparent","#FF00FF"]},"legend":{"legendX":156,"legendY":58}}}},
{"data":{"name":"a1"},"mark":{"type":"point","opacity":1,"strokeWidth":1,"size":45},"encoding":{
"shape":{"datum":"HMA (4.9)","type":"nominal"},"stroke":{"datum":"HMA (4.9)","type":"nominal"},"fill":{"datum":"HMA (4.9)","type":"nominal"}}}
]},
{"width":232,"height":143,"title":"(b)",
"encoding":{"x":{"field":"x","type":"quantitative","scale":{"domain":[0,0.08]},"axis":{"values":[0,0.02,0.04,0.06,0.08],"format":"~g"},"title":"Reduced Time"},"y":{"field":"y","type":"quantitative","scale":{"domain":[0,0.0006]},"axis":{"values":[0,0.0001,0.0002,0.0003,0.0004,0.0005,0.0006],"format":"~g"},"title":null}},
"layer":[
{"data":{"name":"b2"},"mark":{"type":"point","opacity":1,"strokeWidth":1,"size":45},"encoding":{
"shape":{"datum":"M-KW6","type":"nominal","scale":{"domain":["KW6 (4.5)","M-KW6"],"range":["diamond","diamond"]},"legend":{"legendX":156,"legendY":64}},
"stroke":{"datum":"M-KW6","type":"nominal","scale":{"domain":["KW6 (4.5)","M-KW6"],"range":["#000080","#000080"]},"legend":{"legendX":156,"legendY":64}},
"fill":{"datum":"M-KW6","type":"nominal","scale":{"domain":["KW6 (4.5)","M-KW6"],"range":["transparent","#000080"]},"legend":{"legendX":156,"legendY":64}}}},
{"data":{"name":"b1"},"mark":{"type":"point","opacity":1,"strokeWidth":1,"size":45},"encoding":{
"shape":{"datum":"KW6 (4.5)","type":"nominal"},"stroke":{"datum":"KW6 (4.5)","type":"nominal"},"fill":{"datum":"KW6 (4.5)","type":"nominal"}}}
]}
],"spacing":34,
"resolve":{"scale":{"shape":"independent","fill":"independent","stroke":"independent"},"legend":{"shape":"independent","fill":"independent","stroke":"independent"}}},
{"hconcat":[
{"width":224,"height":143,"title":"(c)",
"encoding":{"x":{"field":"x","type":"quantitative","scale":{"domain":[0,0.08]},"axis":{"values":[0,0.02,0.04,0.06,0.08],"format":"~g"},"title":"Reduced Time"},"y":{"field":"y","type":"quantitative","scale":{"domain":[0,0.0006]},"axis":{"values":[0,0.0001,0.0002,0.0003,0.0004,0.0005,0.0006],"format":"~g"},"title":null}},
"layer":[
{"data":{"name":"c2"},"mark":{"type":"point","opacity":1,"strokeWidth":1,"size":50},"encoding":{
"shape":{"datum":"M-KW6-5","type":"nominal","scale":{"domain":["KW6-5 (4.3)","M-KW6-5"],"range":["circle","circle"]},"legend":{"legendX":133,"legendY":57}},
"stroke":{"datum":"M-KW6-5","type":"nominal","scale":{"domain":["KW6-5 (4.3)","M-KW6-5"],"range":["#0000FF","#0000FF"]},"legend":{"legendX":133,"legendY":57}},
"fill":{"datum":"M-KW6-5","type":"nominal","scale":{"domain":["KW6-5 (4.3)","M-KW6-5"],"range":["transparent","#0000FF"]},"legend":{"legendX":133,"legendY":57}}}},
{"data":{"name":"c1"},"mark":{"type":"point","opacity":1,"strokeWidth":1,"size":42},"encoding":{
"shape":{"datum":"KW6-5 (4.3)","type":"nominal"},"stroke":{"datum":"KW6-5 (4.3)","type":"nominal"},"fill":{"datum":"KW6-5 (4.3)","type":"nominal"}}}
]},
{"width":232,"height":143,"title":"(d)",
"encoding":{"x":{"field":"x","type":"quantitative","scale":{"domain":[0,0.08]},"axis":{"values":[0,0.02,0.04,0.06,0.08],"format":"~g"},"title":"Reduced Time"},"y":{"field":"y","type":"quantitative","scale":{"domain":[0,0.0006]},"axis":{"values":[0,0.0001,0.0002,0.0003,0.0004,0.0005,0.0006],"format":"~g"},"title":null}},
"layer":[
{"data":{"name":"d2"},"mark":{"type":"point","opacity":1,"strokeWidth":1,"size":36},"encoding":{
"shape":{"datum":"M-KW6-5","type":"nominal","scale":{"domain":["KW6-5 (4.5)","M-KW6-5"],"range":["square","square"]},"legend":{"legendX":143,"legendY":60}},
"stroke":{"datum":"M-KW6-5","type":"nominal","scale":{"domain":["KW6-5 (4.5)","M-KW6-5"],"range":["#20C0F0","#20C0F0"]},"legend":{"legendX":143,"legendY":60}},
"fill":{"datum":"M-KW6-5","type":"nominal","scale":{"domain":["KW6-5 (4.5)","M-KW6-5"],"range":["transparent","#20C0F0"]},"legend":{"legendX":143,"legendY":60}}}},
{"data":{"name":"d1"},"mark":{"type":"point","opacity":1,"strokeWidth":1,"size":36},"encoding":{
"shape":{"datum":"KW6-5 (4.5)","type":"nominal"},"stroke":{"datum":"KW6-5 (4.5)","type":"nominal"},"fill":{"datum":"KW6-5 (4.5)","type":"nominal"}}}
]}
],"spacing":34,
"resolve":{"scale":{"shape":"independent","fill":"independent","stroke":"independent"},"legend":{"shape":"independent","fill":"independent","stroke":"independent"}}},
{"hconcat":[
{"width":224,"height":143,"title":"(e)",
"encoding":{"x":{"field":"x","type":"quantitative","scale":{"domain":[0,0.08]},"axis":{"values":[0,0.02,0.04,0.06,0.08],"format":"~g"},"title":"Reduced Time"},"y":{"field":"y","type":"quantitative","scale":{"domain":[0,0.0006]},"axis":{"values":[0,0.0001,0.0002,0.0003,0.0004,0.0005,0.0006],"format":"~g"},"title":null}},
"layer":[
{"data":{"name":"e2"},"mark":{"type":"point","opacity":1,"strokeWidth":1,"size":45},"encoding":{
"shape":{"datum":"M-KW6-8","type":"nominal","scale":{"domain":["KW6-8 (4.3)","M-KW6-8"],"range":["triangle-up","triangle-up"]},"legend":{"legendX":137,"legendY":59}},
"stroke":{"datum":"M-KW6-8","type":"nominal","scale":{"domain":["KW6-8 (4.3)","M-KW6-8"],"range":["#00FF00","#00FF00"]},"legend":{"legendX":137,"legendY":59}},
"fill":{"datum":"M-KW6-8","type":"nominal","scale":{"domain":["KW6-8 (4.3)","M-KW6-8"],"range":["transparent","#00FF00"]},"legend":{"legendX":137,"legendY":59}}}},
{"data":{"name":"e1"},"mark":{"type":"point","opacity":1,"strokeWidth":1,"size":45},"encoding":{
"shape":{"datum":"KW6-8 (4.3)","type":"nominal"},"stroke":{"datum":"KW6-8 (4.3)","type":"nominal"},"fill":{"datum":"KW6-8 (4.3)","type":"nominal"}}}
]},
{"width":232,"height":143,"title":"(f)",
"encoding":{"x":{"field":"x","type":"quantitative","scale":{"domain":[0,0.08]},"axis":{"values":[0,0.02,0.04,0.06,0.08],"format":"~g"},"title":"Reduced Time"},"y":{"field":"y","type":"quantitative","scale":{"domain":[0,0.0006]},"axis":{"values":[0,0.0001,0.0002,0.0003,0.0004,0.0005,0.0006],"format":"~g"},"title":null}},
"layer":[
{"data":{"name":"f2"},"mark":{"type":"point","opacity":1,"strokeWidth":1,"size":45},"encoding":{
"shape":{"datum":"M-KW6-8","type":"nominal","scale":{"domain":["KW6-8 (4.9)","M-KW6-8"],"range":["circle","circle"]},"legend":{"legendX":145,"legendY":66}},
"stroke":{"datum":"M-KW6-8","type":"nominal","scale":{"domain":["KW6-8 (4.9)","M-KW6-8"],"range":["#800000","#800000"]},"legend":{"legendX":145,"legendY":66}},
"fill":{"datum":"M-KW6-8","type":"nominal","scale":{"domain":["KW6-8 (4.9)","M-KW6-8"],"range":["transparent","#800000"]},"legend":{"legendX":145,"legendY":66}}}},
{"data":{"name":"f1"},"mark":{"type":"point","opacity":1,"strokeWidth":1,"size":42},"encoding":{
"shape":{"datum":"KW6-8 (4.9)","type":"nominal"},"stroke":{"datum":"KW6-8 (4.9)","type":"nominal"},"fill":{"datum":"KW6-8 (4.9)","type":"nominal"}}}
]}
],"spacing":34,
"resolve":{"scale":{"shape":"independent","fill":"independent","stroke":"independent"},"legend":{"shape":"independent","fill":"independent","stroke":"independent"}}}
]
}
